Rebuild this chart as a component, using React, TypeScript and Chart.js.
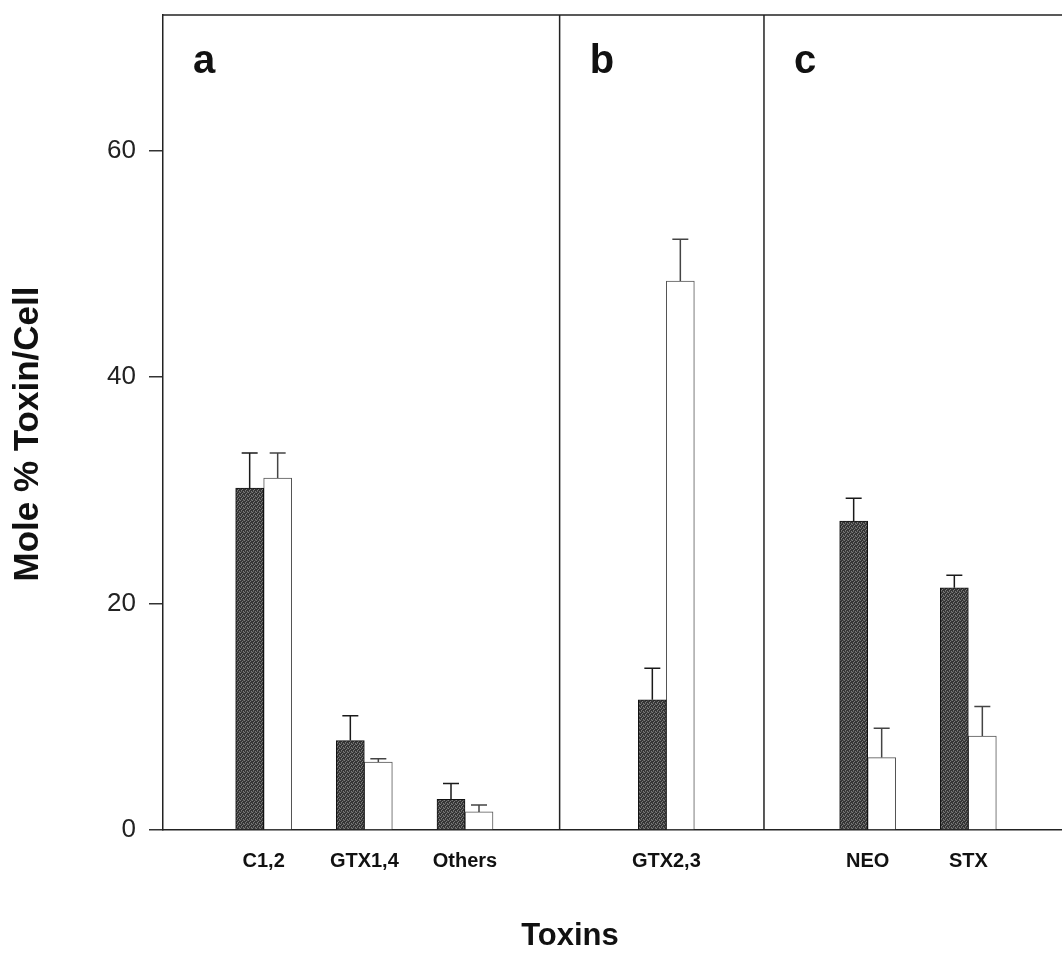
import React, { useEffect, useRef } from "react";
import { Chart, registerables } from "chart.js";

Chart.register(...registerables);

// Category slots (blank slots are the gaps between panels a, b and c)
const categories = ["", "C1,2", "GTX1,4", "Others", "", "GTX2,3", "", "NEO", "STX", ""];
// Dark (stippled) bars: mean mole % and upper error (SD)
const darkValues = [null, 30.2, 7.9, 2.7, null, 11.5, null, 27.3, 21.4, null];
const darkErrors = [null, 3.1, 2.2, 1.4, null, 2.8, null, 2.0, 1.1, null];
// Open (white) bars
const lightValues = [null, 31.1, 6.0, 1.6, null, 48.5, null, 6.4, 8.3, null];
const lightErrors = [null, 2.2, 0.3, 0.6, null, 3.7, null, 2.6, 2.6, null];
// Y axis
const yTicks = [0, 20, 40, 60];
const yMax = 72;
// Panel separators (in category-slot units) and panel letters
const panelDividers = [3.94, 5.97];
const panelLetters = ["a", "b", "c"];
const yTitle = "Mole % Toxin/Cell";
const xTitle = "Toxins";

const FONT = '"Liberation Sans", Arial, Helvetica, sans-serif';

function makeStipple(): CanvasPattern | string {
  const pc = document.createElement("canvas");
  pc.width = 4;
  pc.height = 4;
  const g = pc.getContext("2d");
  if (!g) return "#444";
  g.fillStyle = "#353535";
  g.fillRect(0, 0, 4, 4);
  g.fillStyle = "#7a7a7a";
  g.fillRect(0, 0, 1, 1);
  g.fillRect(2, 1, 1, 1);
  g.fillRect(1, 2, 1, 1);
  g.fillRect(3, 3, 1, 1);
  g.fillStyle = "#5a5a5a";
  g.fillRect(3, 0, 1, 1);
  g.fillRect(1, 3, 1, 1);
  return g.createPattern(pc, "repeat") || "#444";
}

const decorPlugin = {
  id: "decor",
  afterDatasetsDraw(chart: any) {
    const { ctx, chartArea, scales } = chart;
    const xs = scales.x;
    const ys = scales.y;
    ctx.save();
    // error bars
    const errs = [darkErrors, lightErrors];
    const vals = [darkValues, lightValues];
    const colors = ["#1a1a1a", "#444"];
    chart.data.datasets.forEach((_ds: any, di: number) => {
      const meta = chart.getDatasetMeta(di);
      meta.data.forEach((el: any, i: number) => {
        const v = vals[di][i];
        const e = errs[di][i];
        if (v == null || e == null) return;
        const yTop = ys.getPixelForValue(v + e);
        ctx.strokeStyle = colors[di];
        ctx.lineWidth = 1.5;
        ctx.beginPath();
        ctx.moveTo(el.x, el.y);
        ctx.lineTo(el.x, yTop);
        ctx.moveTo(el.x - 8, yTop);
        ctx.lineTo(el.x + 8, yTop);
        ctx.stroke();
      });
    });
    // top frame line
    ctx.strokeStyle = "#222";
    ctx.lineWidth = 1.5;
    ctx.beginPath();
    ctx.moveTo(chartArea.left, chartArea.top);
    ctx.lineTo(chartArea.right, chartArea.top);
    ctx.stroke();
    // panel dividers
    const panelStarts = [chartArea.left];
    panelDividers.forEach((d) => {
      const px = xs.getPixelForValue(d);
      panelStarts.push(px);
      ctx.beginPath();
      ctx.moveTo(px, chartArea.top);
      ctx.lineTo(px, chartArea.bottom);
      ctx.stroke();
    });
    // panel letters
    ctx.fillStyle = "#111";
    ctx.font = `bold 40px ${FONT}`;
    ctx.textAlign = "left";
    ctx.textBaseline = "alphabetic";
    panelLetters.forEach((t, i) => {
      ctx.fillText(t, panelStarts[i] + 30, chartArea.top + 58);
    });
    // category labels
    ctx.font = `bold 20px ${FONT}`;
    ctx.textAlign = "center";
    ctx.textBaseline = "middle";
    categories.forEach((c, i) => {
      if (!c) return;
      ctx.fillText(c, xs.getPixelForValue(i), chartArea.bottom + 31);
    });
    // x title
    ctx.font = `bold 31px ${FONT}`;
    ctx.fillText(xTitle, 570, chartArea.bottom + 106);
    // y title
    ctx.save();
    ctx.translate(28, 434);
    ctx.rotate(-Math.PI / 2);
    ctx.font = `bold 35px ${FONT}`;
    ctx.fillText(yTitle, 0, 0);
    ctx.restore();
    ctx.restore();
  },
};

export default function App() {
  const ref = useRef<HTMLCanvasElement | null>(null);
  useEffect(() => {
    if (!ref.current) return;
    const stipple = makeStipple();
    const chart = new Chart(ref.current, {
      type: "bar",
      data: {
        labels: categories,
        datasets: [
          {
            label: "dark",
            data: darkValues as any,
            backgroundColor: stipple as any,
            borderColor: "#111",
            borderWidth: 1,
            barThickness: 28,
          },
          {
            label: "light",
            data: lightValues as any,
            backgroundColor: "#ffffff",
            borderColor: "#555",
            borderWidth: 1,
            barThickness: 28,
          },
        ],
      },
      options: {
        responsive: false,
        animation: false,
        devicePixelRatio: 1,
        layout: { padding: { top: 15, left: 0, right: 0, bottom: 0 } },
        plugins: { legend: { display: false }, tooltip: { enabled: false } },
        scales: {
          x: {
            type: "category",
            offset: false,
            grid: { display: false },
            border: { display: true, color: "#222", width: 1.5 },
            ticks: { display: false },
            afterFit: (s: any) => {
              s.height = 132;
              s.paddingLeft = 0;
              s.paddingRight = 0;
            },
          },
          y: {
            min: 0,
            max: yMax,
            afterBuildTicks: (s: any) => {
              s.ticks = yTicks.map((v) => ({ value: v }));
            },
            grid: {
              drawOnChartArea: false,
              drawTicks: true,
              tickLength: 14,
              color: "#333",
              lineWidth: 1.5,
            },
            border: { display: true, color: "#222", width: 1.5 },
            ticks: {
              padding: 13,
              color: "#222",
              font: { family: FONT, size: 26 },
            },
            afterFit: (s: any) => {
              s.width = 163;
              s.paddingTop = 0;
              s.paddingBottom = 0;
            },
          },
        },
      },
      plugins: [decorPlugin],
    });
    return () => chart.destroy();
  }, []);
  return (
    <div
      style={{
        position: "fixed",
        left: 0,
        top: 0,
        width: 1062,
        height: 962,
        overflow: "hidden",
        background: "#fff",
      }}
    >
      <canvas ref={ref} width={1069} height={962} style={{ width: 1069, height: 962, display: "block" }} />
    </div>
  );
}
